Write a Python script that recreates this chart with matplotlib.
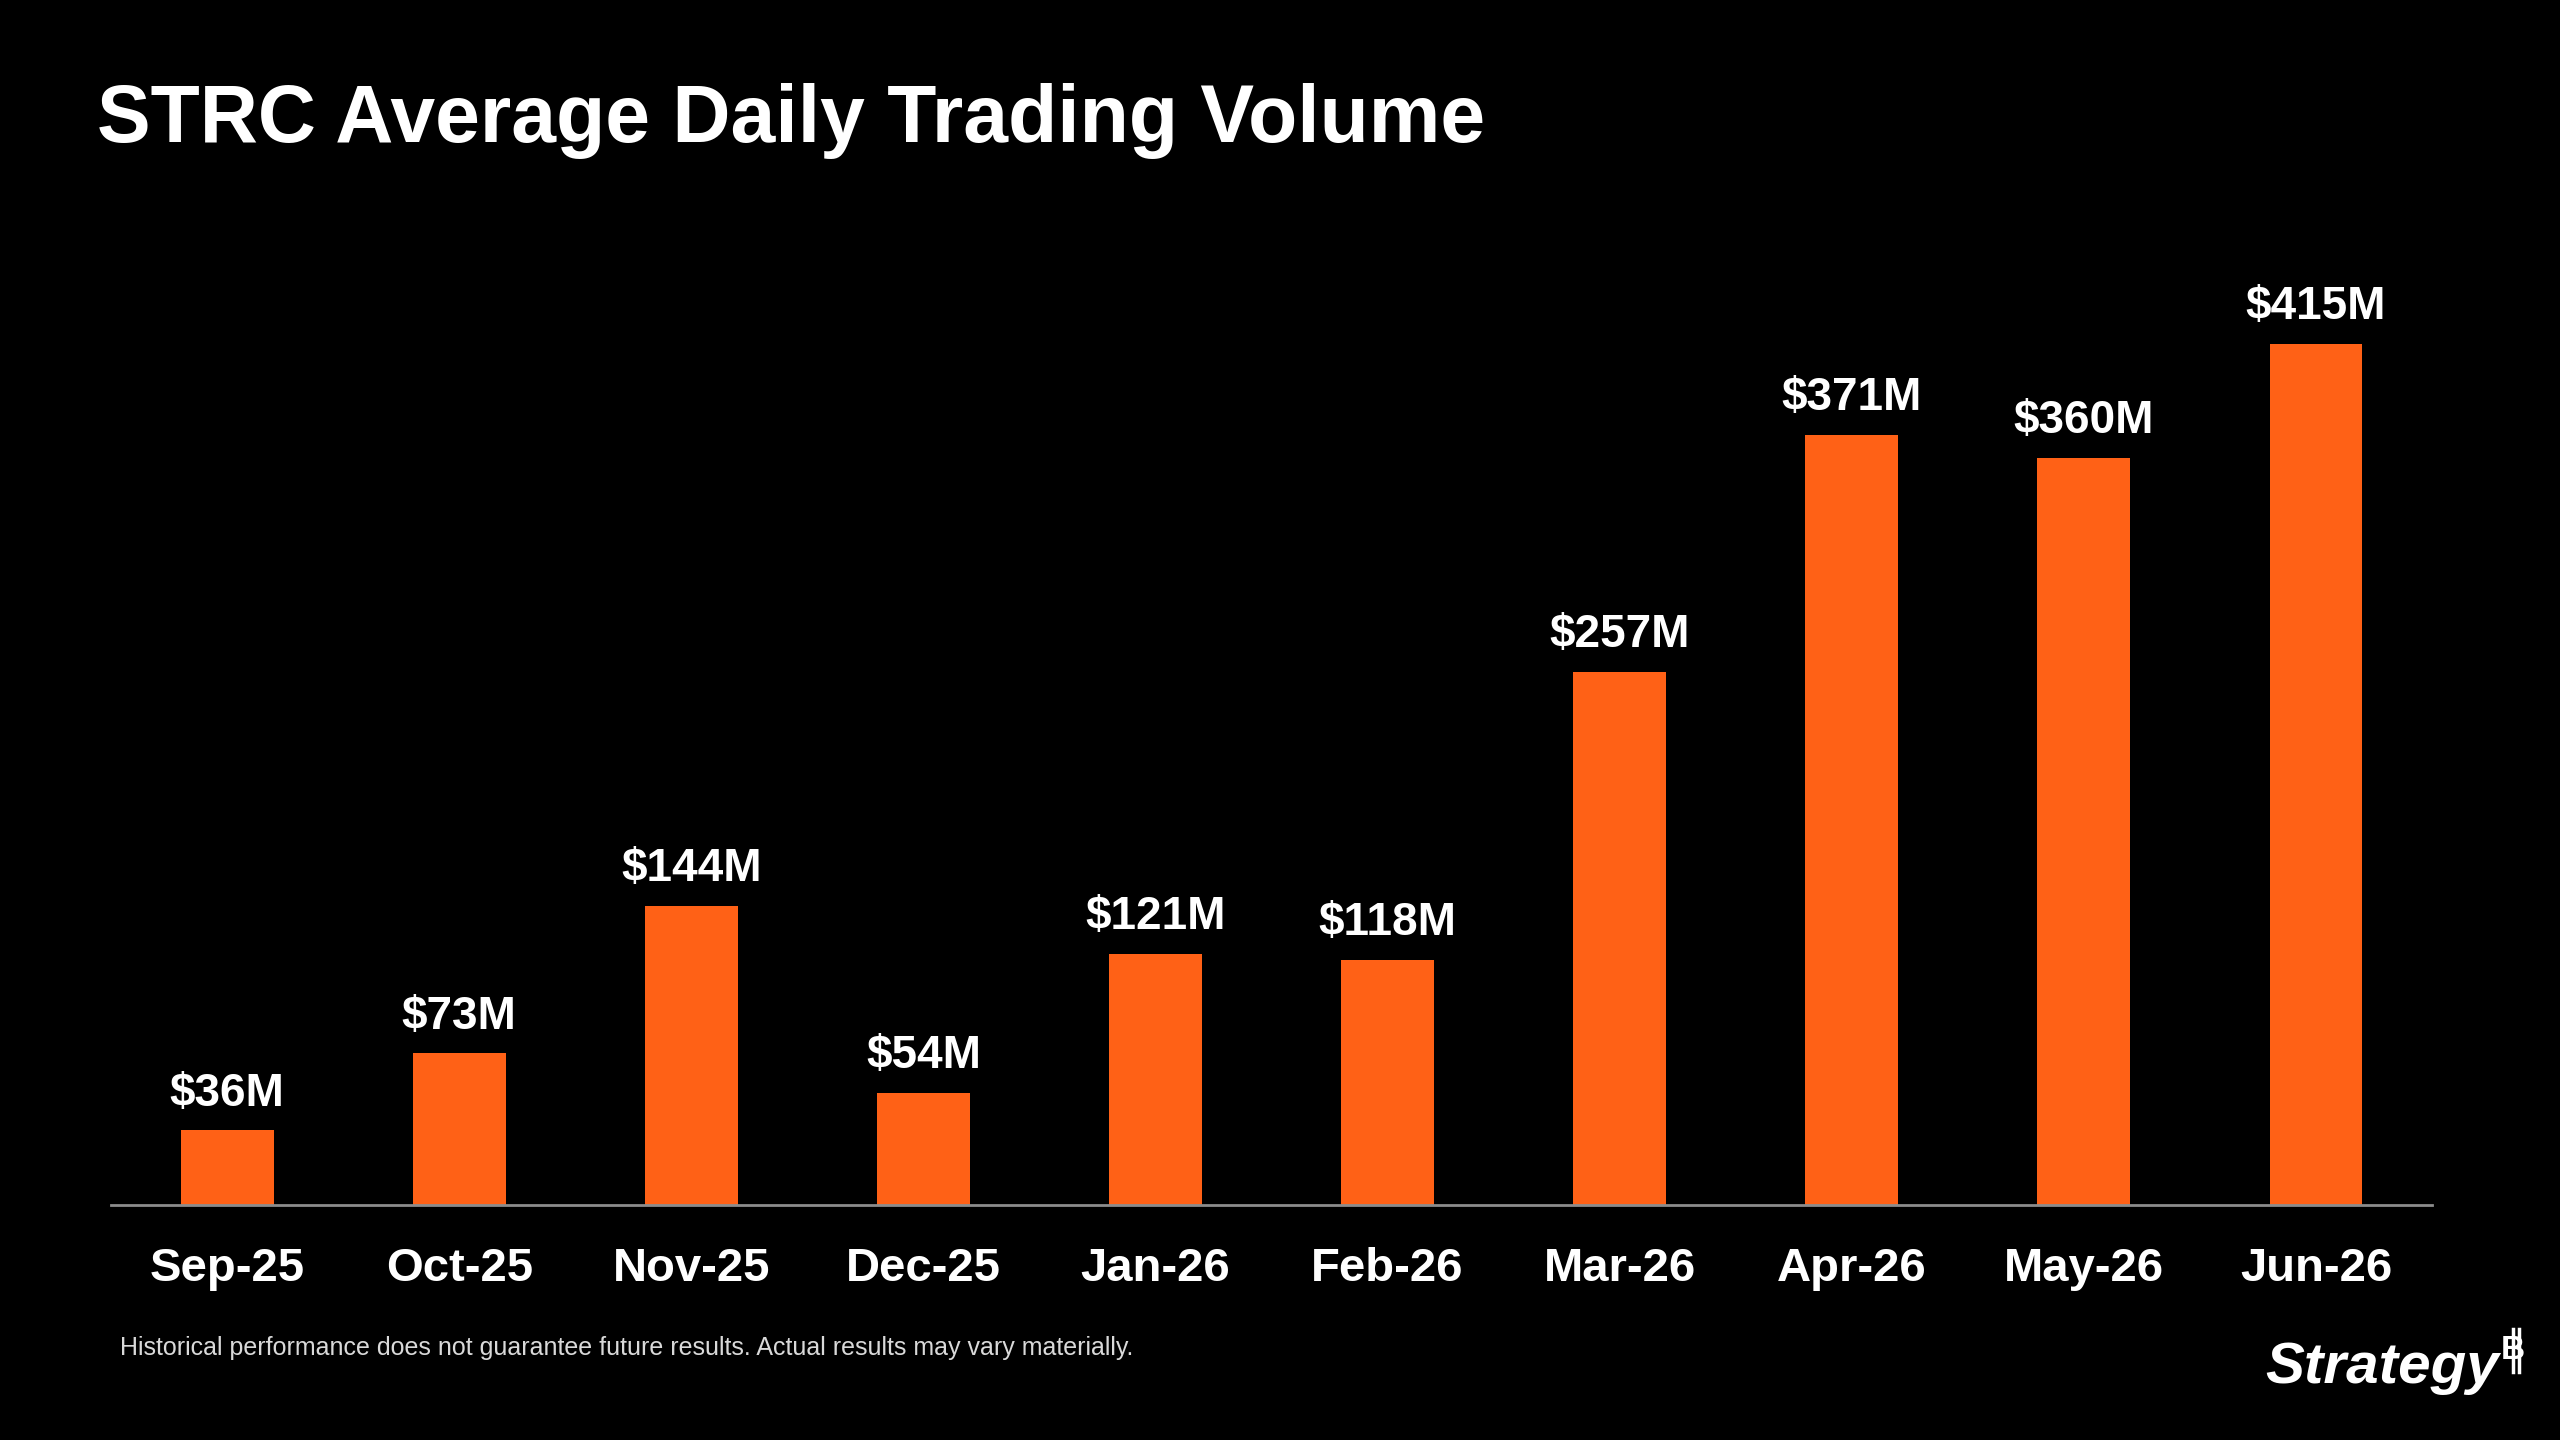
import matplotlib
matplotlib.use('Agg')
import matplotlib.pyplot as plt

months = ['Sep-25', 'Oct-25', 'Nov-25', 'Dec-25', 'Jan-26', 'Feb-26',
          'Mar-26', 'Apr-26', 'May-26', 'Jun-26']
volume_m = [36, 73, 144, 54, 121, 118, 257, 371, 360, 415]

plt.rcParams['font.family'] = ['Liberation Sans', 'DejaVu Sans']

fig = plt.figure(figsize=(25.6, 14.4), dpi=100, facecolor='black')
ax = fig.add_axes([0.0434, 0.1633, 0.9066, 0.6485], facecolor='black')

x = range(len(months))
ax.bar(x, volume_m, width=0.4, color='#FF6116', zorder=2)
for xi, v in zip(x, volume_m):
    ax.text(xi, v + 7, f'${v}M', ha='center', va='bottom', color='white',
            fontsize=33, fontweight='bold')

ax.set_xlim(-0.5, 9.5)
ax.set_ylim(0, 450)
ax.set_xticks(list(x))
ax.set_xticklabels(months, fontsize=34, fontweight='bold', color='white')
ax.tick_params(axis='x', length=0, pad=30)
ax.set_yticks([])
for s in ['top', 'right', 'left']:
    ax.spines[s].set_visible(False)
ax.spines['bottom'].set_color('#8c8c8c')
ax.spines['bottom'].set_linewidth(2)

fig.text(0.038, 0.916, 'STRC Average Daily Trading Volume', color='white',
         fontsize=58, fontweight='bold', va='center', ha='left')
fig.text(0.047, 0.064, 'Historical performance does not guarantee future results. '
         'Actual results may vary materially.', color='#d9d9d9', fontsize=18,
         va='center', ha='left')

# logo: "Strategy" with a small bitcoin-style B
fig.text(0.976, 0.050, 'Strategy', color='white', fontsize=42,
         fontweight='bold', va='center', ha='right', style='italic')
fig.text(0.977, 0.062, 'B', color='white', fontsize=24, fontweight='bold',
         va='center', ha='left')
for dx in (0.9815, 0.9840):
    fig.add_artist(plt.Line2D([dx, dx], [0.047, 0.077], color='white', lw=2.5))

fig.savefig('out.png', facecolor='black')
